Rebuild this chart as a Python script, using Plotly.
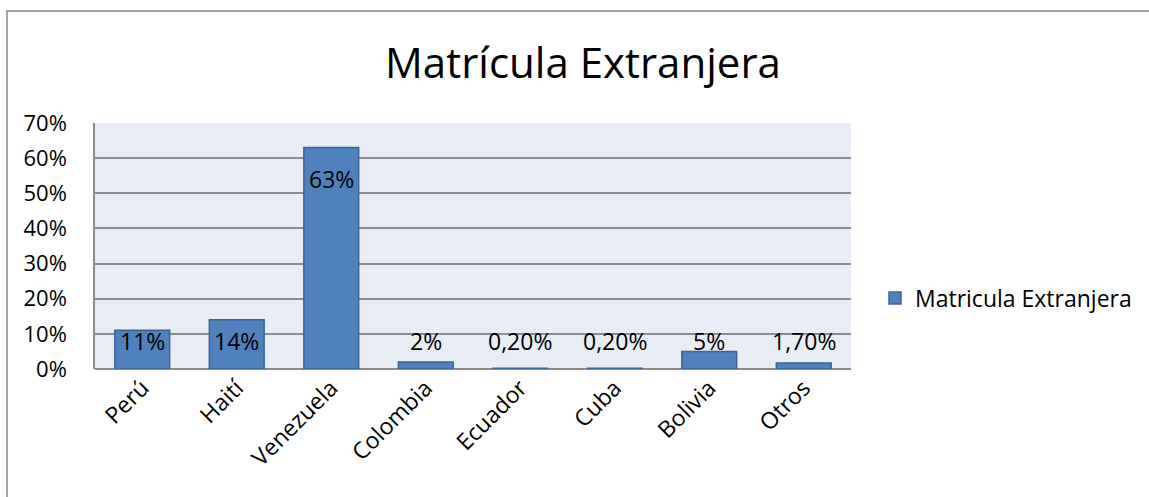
import plotly.graph_objects as go

categories = ["Perú", "Haití", "Venezuela", "Colombia", "Ecuador", "Cuba", "Bolivia", "Otros"]
values = [0.11, 0.14, 0.63, 0.02, 0.002, 0.002, 0.05, 0.017]
value_labels = ["11%", "14%", "63%", "2%", "0,20%", "0,20%", "5%", "1,70%"]
y_ticks = [0, 0.1, 0.2, 0.3, 0.4, 0.5, 0.6, 0.7]
y_tick_labels = ["0%", "10%", "20%", "30%", "40%", "50%", "60%", "70%"]
series_name = "Matricula Extranjera"
title = "Matrícula Extranjera"

W, H = 1149, 497
L, R, T, B = 95, 298, 123, 128
FONT = "'Open Sans', 'Noto Sans', sans-serif"
FS = 23
FS_Y = 22
LABEL_LEVEL = 0.08  # common baseline for data labels (as in the reference)

fig = go.Figure()
fig.add_trace(go.Bar(
    x=categories, y=values, name=series_name,
    marker=dict(color="#4F81BD", line=dict(color="#3A6494", width=1.5)),
    width=0.58, showlegend=True, hoverinfo="x+y",
))

annotations = []
for c, v, t in zip(categories, values, value_labels):
    if v > 0.3:
        annotations.append(dict(x=c, y=v, xref="x", yref="y", text=t, showarrow=False,
                                yanchor="middle", yshift=-31,
                                font=dict(family=FONT, size=FS, color="black")))
    else:
        annotations.append(dict(x=c, y=LABEL_LEVEL, xref="x", yref="y", text=t, showarrow=False,
                                yanchor="middle",
                                font=dict(family=FONT, size=FS, color="black")))

pw = W - L - R
ph = H - T - B
shapes = [dict(type="rect", xref="paper", yref="paper",
               x0=(7 - L) / pw, x1=(1160 - L) / pw,
               y0=(H - B - 520) / ph, y1=(H - B - 11) / ph,
               line=dict(color="#868686", width=1.5), fillcolor="rgba(0,0,0,0)", layer="below")]

fig.update_layout(
    width=W, height=H,
    margin=dict(l=L, r=R, t=T, b=B, autoexpand=False),
    paper_bgcolor="white", plot_bgcolor="#E8ECF4",
    title=dict(text=title, x=(583 - L) / pw, xref="paper", xanchor="center",
               y=1 - 63 / H, yanchor="middle", yref="container",
               font=dict(family=FONT, size=42, color="black")),
    font=dict(family=FONT, size=FS, color="black"),
    legend=dict(x=(875 - L) / pw, xanchor="left", y=(H - B - 298) / ph, yanchor="middle",
                font=dict(family=FONT, size=FS, color="black"), bgcolor="rgba(0,0,0,0)",
                itemwidth=30),
    shapes=shapes,
    annotations=annotations,
)
fig.update_xaxes(tickangle=-45, showgrid=False, showline=False, ticks="",
                 tickfont=dict(family=FONT, size=FS, color="black"))
fig.update_yaxes(range=[0, 0.7], tickvals=y_ticks, ticktext=y_tick_labels,
                 showgrid=True, gridcolor="#8C8C8C", gridwidth=1.5,
                 showline=True, linecolor="#8C8C8C", linewidth=1.5,
                 zeroline=True, zerolinecolor="#8C8C8C", zerolinewidth=1.5,
                 ticks="", ticklabelstandoff=22,
                 tickfont=dict(family=FONT, size=FS_Y, color="black"))

fig.write_html("out.html", config={"displayModeBar": False},
               post_script="document.body.style.margin='0';document.body.style.overflow='hidden';")
